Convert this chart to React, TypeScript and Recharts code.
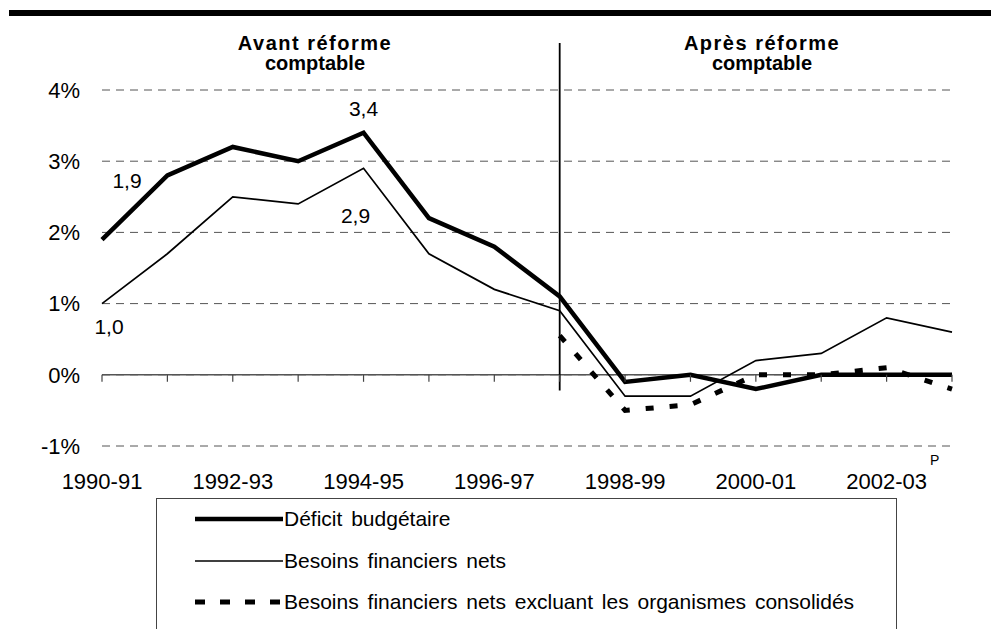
import { LineChart, Line, XAxis, YAxis, CartesianGrid, ReferenceLine, LabelList } from 'recharts';

const years = [
  '1990-91', '1991-92', '1992-93', '1993-94', '1994-95', '1995-96', '1996-97',
  '1997-98', '1998-99', '1999-00', '2000-01', '2001-02', '2002-03', '2003-04',
];
const deficit = [1.9, 2.8, 3.2, 3.0, 3.4, 2.2, 1.8, 1.1, -0.1, 0.0, -0.2, 0.0, 0.0, 0.0];
const besoins = [1.0, 1.7, 2.5, 2.4, 2.9, 1.7, 1.2, 0.9, -0.3, -0.3, 0.2, 0.3, 0.8, 0.6];
const besoinsExcl = [null, null, null, null, null, null, null, 0.55, -0.5, -0.42, 0.0, 0.0, 0.1, -0.2];
const yTicks = [-1, 0, 1, 2, 3, 4];
const reformYear = '1997-98';

const data = years.map((year, i) => ({
  year,
  deficit: deficit[i],
  besoins: besoins[i],
  besoinsExcl: besoinsExcl[i],
}));

const FONT = '"Liberation Sans", Arial, sans-serif';
const W = 991;
const H = 629;
const PLOT_TOP = 90;
const PLOT_BOTTOM = 446;
const Y_MIN = -1;
const Y_MAX = 4;
const ZERO_Y = PLOT_TOP + ((Y_MAX - 0) / (Y_MAX - Y_MIN)) * (PLOT_BOTTOM - PLOT_TOP);

// placement of the few data labels, relative to their point
const labelOffsets: Record<string, Record<number, [number, number]>> = {
  deficit: { 0: [25, -59], 4: [0, -24] },
  besoins: { 0: [7, 23], 4: [-8, 47] },
};

const fmt = (v: number) => v.toFixed(1).replace('.', ',');

const makeLabel = (key: string) => (props: any) => {
  const { x, y, value, index } = props;
  const off = labelOffsets[key][index];
  if (!off) return null;
  return (
    <text x={x + off[0]} y={y + off[1]} dy="0.35em" textAnchor="middle" fontFamily={FONT} fontSize={21} fill="#000">
      {fmt(value)}
    </text>
  );
};

const XTick = (props: any) => {
  const { x, payload, index } = props;
  const ty = PLOT_BOTTOM + 27;
  return (
    <g>
      <line x1={x} x2={x} y1={ZERO_Y} y2={ZERO_Y + 7} stroke="#444" strokeWidth={1.2} />
      {index % 2 === 0 && (
        <text x={x} y={ty} dy="0.71em" textAnchor="middle" fontFamily={FONT} fontSize={22} fill="#000">
          {payload.value}
        </text>
      )}
      {payload.value === '2002-03' && (
        <text x={x + 48} y={ty - 18} dy="0.71em" textAnchor="middle" fontFamily={FONT} fontSize={14} fill="#000">
          P
        </text>
      )}
    </g>
  );
};

const legendItems = [
  { label: 'Déficit budgétaire', width: 4.5, dash: undefined as string | undefined },
  { label: 'Besoins financiers nets', width: 1.7, dash: undefined },
  { label: 'Besoins financiers nets excluant les organismes consolidés', width: 5, dash: '10 15' },
];

const titleStyle: React.CSSProperties = {
  position: 'absolute',
  fontFamily: FONT,
  fontWeight: 'bold',
  fontSize: 20,
  textAlign: 'center',
  lineHeight: '20px',
  width: 240,
  color: '#000',
};

export default function App() {
  return (
    <div style={{ position: 'absolute', left: 0, top: 0, width: W, height: H, overflow: 'hidden', background: '#fff' }}>
      <div style={{ position: 'absolute', left: 9, top: 10, width: W - 9, height: 6, background: '#000' }} />

      <div style={{ ...titleStyle, left: 315 - 120, top: 33 }}>
        <div style={{ letterSpacing: 1.5 }}>Avant réforme</div>
        <div>comptable</div>
      </div>
      <div style={{ ...titleStyle, left: 762 - 120, top: 33 }}>
        <div style={{ letterSpacing: 1.5 }}>Après réforme</div>
        <div>comptable</div>
      </div>

      <LineChart
        width={W}
        height={H}
        data={data}
        margin={{ top: PLOT_TOP, right: 39, bottom: H - PLOT_BOTTOM - 60, left: 2 }}
      >
        <CartesianGrid vertical={false} stroke="#555" strokeDasharray="8 6" strokeWidth={1} />
        <XAxis
          dataKey="year"
          interval={0}
          height={60}
          axisLine={false}
          tickLine={false}
          tick={<XTick />}
        />
        <YAxis
          domain={[Y_MIN, Y_MAX]}
          ticks={yTicks}
          width={100}
          axisLine={false}
          tickLine={false}
          tickMargin={16}
          tickFormatter={(v: number) => `${v}%`}
          tick={{ fill: '#000', fontSize: 22, fontFamily: FONT }}
        />
        <ReferenceLine y={0} stroke="#555" strokeWidth={1.5} />
        <ReferenceLine
          segment={[{ x: reformYear, y: 4.66 }, { x: reformYear, y: -0.22 }]}
          stroke="#000"
          strokeWidth={1.8}
          ifOverflow="visible"
        />
        <Line
          dataKey="besoins"
          stroke="#000"
          strokeWidth={1.7}
          dot={false}
          isAnimationActive={false}
        >
          <LabelList dataKey="besoins" content={makeLabel('besoins')} />
        </Line>
        <Line
          dataKey="besoinsExcl"
          stroke="#000"
          strokeWidth={5}
          strokeDasharray="8 16"
          dot={false}
          isAnimationActive={false}
        />
        <Line
          dataKey="deficit"
          stroke="#000"
          strokeWidth={4.5}
          dot={false}
          isAnimationActive={false}
        >
          <LabelList dataKey="deficit" content={makeLabel('deficit')} />
        </Line>
      </LineChart>

      <div
        style={{
          position: 'absolute',
          left: 156,
          top: 498,
          width: 741,
          height: 160,
          border: '1.5px solid #444',
          boxSizing: 'border-box',
          fontFamily: FONT,
          fontSize: 21,
          wordSpacing: 3,
          color: '#000',
        }}
      >
        {legendItems.map((item, i) => (
          <div
            key={item.label}
            style={{ position: 'absolute', left: 38, top: 20 + i * 41.5 - 14, height: 28, display: 'flex', alignItems: 'center' }}
          >
            <svg width={88} height={10} style={{ display: 'block' }}>
              <line x1={0} x2={88} y1={5} y2={5} stroke="#000" strokeWidth={item.width} strokeDasharray={item.dash} />
            </svg>
            <span style={{ marginLeft: 1, whiteSpace: 'nowrap' }}>{item.label}</span>
          </div>
        ))}
      </div>
    </div>
  );
}
